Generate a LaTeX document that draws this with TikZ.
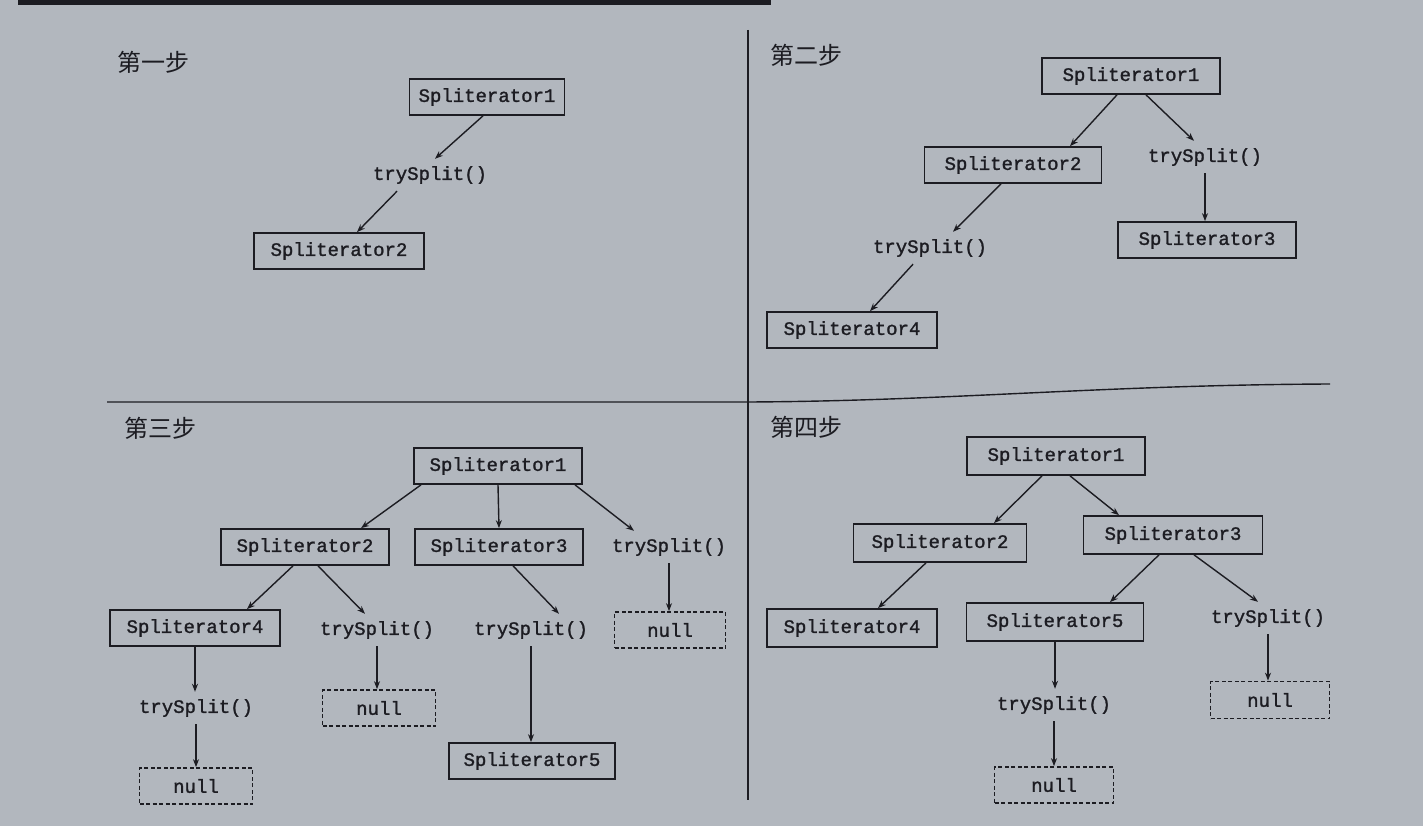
\documentclass[tikz,border=0pt]{standalone}
\usepackage{fontspec}
\newfontfamily\codefont[FakeBold=1.4]{Liberation Mono}
\newfontfamily\cjkfont{Noto Sans CJK SC}
\usetikzlibrary{arrows.meta}
\definecolor{paper}{RGB}{178,183,190}
\definecolor{ink}{RGB}{28,28,34}

\begin{document}
\begin{tikzpicture}[x=1pt,y=-1pt]
            \tikzset{box/.style = {draw=ink, line width=1.7pt, text=ink, font=\codefont\fontsize{19}{19}\selectfont, minimum width=170pt, minimum height=36pt, inner sep=0pt}}
            \tikzset{nullbox/.style = {box, dash pattern=on 4pt off 2.5pt, minimum width=113pt}}
            \tikzset{call/.style = {text=ink, font=\codefont\fontsize{19}{19}\selectfont, minimum height=32pt, inner sep=0pt}}
            \tikzset{stepname/.style = {text=ink, font=\cjkfont\fontsize{24}{24}\selectfont}}
            \tikzset{arr/.style = {draw=ink, line width=1.4pt, -{Stealth[length=8pt,width=6pt]}}}
            \tikzset{rule/.style = {draw=ink, line width=1.4pt}}

            % page
            \fill[paper] (0,0) rectangle (1423,826);
            \useasboundingbox (0,0) rectangle (1423,826);
            \draw[ink, line width=5pt] (18,2.5) -- (771,2.5);
            \draw[rule] (748,30) -- (748,800);
            \draw[rule] (107,402) -- (748,402) .. controls (950,401) and (1100,385) .. (1330,384);

            % step names
            \foreach \n/\t/\x/\y in {st1/第一步/153/62, st2/第二步/806/55, st3/第三步/160/428, st4/第四步/806/427}
            {
              \node[stepname] (\n) at (\x,\y) {\t};
            }

            % step 1
            \node[box, minimum width=155pt] (a1) at (487,97) {Spliterator1};
            \node[call] (as1) at (430,175) {trySplit()};
            \node[box] (a2) at (339,251) {Spliterator2};

            \draw[arr] ([xshift=-4pt]a1.south) -- ([xshift=5pt]as1.north);
            \draw[arr] ([xshift=-33pt]as1.south) -- ([xshift=18pt]a2.north);

            % step 2
            \node[box, minimum width=178pt] (b1) at (1131,76) {Spliterator1};
            \node[box, minimum width=177pt] (b2) at (1013,165) {Spliterator2};
            \node[call] (bs1) at (1205,157) {trySplit()};
            \node[box, minimum width=178pt] (b3) at (1207,240) {Spliterator3};
            \node[call] (bs2) at (930,248) {trySplit()};
            \node[box] (b4) at (852,330) {Spliterator4};

            \draw[arr] ([xshift=-14pt]b1.south) -- ([xshift=57pt]b2.north);
            \draw[arr] ([xshift=15pt]b1.south) -- ([xshift=-11pt]bs1.north);
            \draw[arr] (bs1.south) -- (bs1.south |- b3.north);
            \draw[arr] ([xshift=-12pt]b2.south) -- ([xshift=23pt]bs2.north);
            \draw[arr] ([xshift=-17pt]bs2.south) -- ([xshift=18pt]b4.north);

            % step 3
            \node[box, minimum width=168pt] (c1) at (498,466) {Spliterator1};
            \node[box, minimum width=168pt] (c2) at (305,547) {Spliterator2};
            \node[box, minimum width=168pt] (c3) at (499,547) {Spliterator3};
            \node[call] (cs1) at (669,547) {trySplit()};
            \node[box] (c4) at (195,628) {Spliterator4};
            \node[call] (cs2) at (377,630) {trySplit()};
            \node[call] (cs3) at (531,630) {trySplit()};
            \node[nullbox, minimum width=111pt] (cn1) at (670,630) {null};
            \node[call] (cs4) at (196,708) {trySplit()};
            \node[nullbox] (cn2) at (379,708) {null};
            \node[box, minimum width=166pt] (c5) at (532,761) {Spliterator5};
            \node[nullbox] (cn3) at (196,786) {null};

            \draw[arr] ([xshift=-77pt]c1.south) -- ([xshift=56pt]c2.north);
            \draw[arr] (c1.south) -- (c3.north);
            \draw[arr] ([xshift=77pt]c1.south) -- ([xshift=-35pt]cs1.north);
            \draw[arr] (cs1.south) -- (cs1.south |- cn1.north);
            \draw[arr] ([xshift=-12pt]c2.south) -- ([xshift=52pt]c4.north);
            \draw[arr] ([xshift=13pt]c2.south) -- ([xshift=-12pt]cs2.north);
            \draw[arr] ([xshift=14pt]c3.south) -- ([xshift=28pt]cs3.north);
            \draw[arr] (c4.south) -- (c4.south |- cs4.north);
            \draw[arr] (cs2.south) -- (cs2.south |- cn2.north);
            \draw[arr] (cs3.south) -- (cs3.south |- c5.north);
            \draw[arr] (cs4.south) -- (cs4.south |- cn3.north);

            % step 4
            \node[box, minimum width=178pt, minimum height=38pt] (d1) at (1056,456) {Spliterator1};
            \node[box, minimum width=173pt, minimum height=38pt] (d2) at (940,543) {Spliterator2};
            \node[box, minimum width=179pt, minimum height=38pt] (d3) at (1173,535) {Spliterator3};
            \node[box, minimum height=38pt] (d4) at (852,628) {Spliterator4};
            \node[box, minimum width=177pt, minimum height=38pt] (d5) at (1055,622) {Spliterator5};
            \node[call] (ds1) at (1268,618) {trySplit()};
            \node[call] (ds2) at (1054,705) {trySplit()};
            \node[nullbox, minimum width=119pt, minimum height=37pt] (dn1) at (1270,700) {null};
            \node[nullbox, minimum width=119pt] (dn2) at (1054,785) {null};

            \draw[arr] ([xshift=-14pt]d1.south) -- ([xshift=54pt]d2.north);
            \draw[arr] ([xshift=14pt]d1.south) -- ([xshift=-54pt]d3.north);
            \draw[arr] ([xshift=-14pt]d2.south) -- ([xshift=26pt]d4.north);
            \draw[arr] ([xshift=-14pt]d3.south) -- ([xshift=55pt]d5.north);
            \draw[arr] ([xshift=21pt]d3.south) -- ([xshift=-10pt]ds1.north);
            \draw[arr] (d5.south) -- (d5.south |- ds2.north);
            \draw[arr] (ds1.south) -- (ds1.south |- dn1.north);
            \draw[arr] (ds2.south) -- (ds2.south |- dn2.north);

          \end{tikzpicture}
\end{document}
